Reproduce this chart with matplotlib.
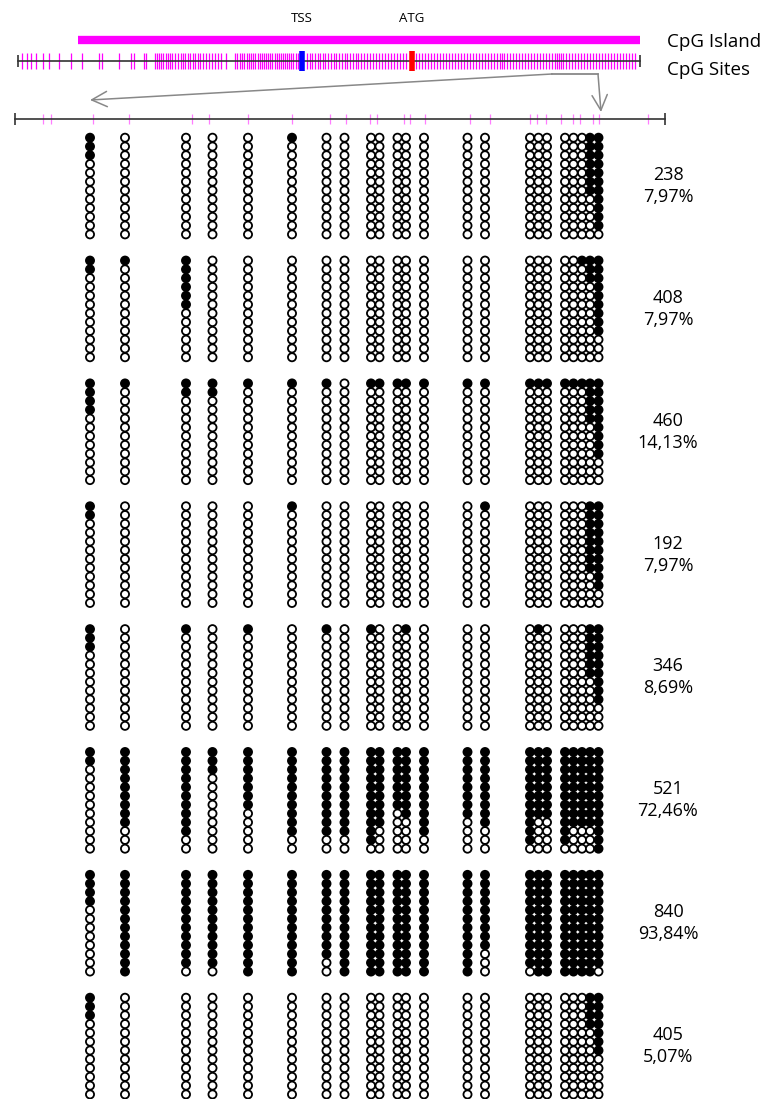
import matplotlib
matplotlib.use("Agg")
import matplotlib.pyplot as plt

# ---------------------------------------------------------------- data
# Gene overview (drawing units along the locus)
island_span = (78, 640)
locus_span = (18, 640)
tss_pos = 302
atg_pos = 412
locus_cpg_pos = [22, 27, 31, 36, 43, 49, 59, 71, 82, 99, 102, 119, 131, 134, 144, 146,
                 155, 157, 159, 161, 163, 166, 168, 170, 172, 175, 178, 181, 183, 185,
                 188, 190, 193, 195, 198, 200, 203, 206, 209, 212, 215, 218, 221, 226,
                 235, 237, 240, 242, 244, 247, 249, 251, 253, 255, 258, 260, 262, 264,
                 266, 268, 270, 272, 275, 277, 279, 281, 283, 285, 287, 289, 291, 293,
                 296, 298, 307, 310, 312, 315, 318, 320, 323, 325, 328, 331, 334, 336,
                 339, 342, 345, 347, 350, 353, 356, 358, 361, 364, 367, 370, 373, 376,
                 379, 382, 385, 388, 391, 394, 397, 400, 403, 406, 416, 419, 422, 425,
                 428, 431, 434, 437, 440, 443, 446, 449, 452, 455, 458, 461, 464, 467,
                 470, 473, 476, 479, 482, 485, 488, 491, 494, 497, 500, 502, 504, 507,
                 510, 513, 516, 519, 522, 525, 528, 531, 534, 537, 540, 543, 546, 549,
                 552, 555, 557, 559, 561, 563, 566, 569, 572, 575, 578, 581, 584, 587,
                 590, 593, 596, 599, 602, 605, 608, 611, 614, 617, 620, 623, 626, 629,
                 632, 635]

# Amplicon detail
amplicon_span = (15, 665)
amplicon_cpg_pos = [43, 51, 93, 129, 192, 209, 248, 292, 330, 346, 370, 377, 404,
                    410, 425, 470, 490, 530, 537, 546, 561, 573, 580, 593, 599, 648]

# Lollipop columns (one per CpG in the sequenced reads)
column_pos = [90, 125, 186, 212.5, 248, 292, 326.5, 344.5, 371, 379.5, 397.5, 406,
              424, 467.5, 485, 530, 538.5, 547, 565, 573.5, 582, 590, 598.5]
reads_per_sample = 12

sample_ids = ["238", "408", "460", "192", "346", "521", "840", "405"]
sample_pct = ["7,97%", "7,97%", "14,13%", "7,97%", "8,69%", "72,46%", "93,84%", "5,07%"]

# methylated reads per CpG column (counted from the top read)
meth_238 = [3, 0, 0, 0, 0, 1, 0, 0, 0, 0, 0, 0, 0, 0, 0, 0, 0, 0, 0, 0, 0, 7, 11]
meth_408 = [2, 1, 6, 0, 0, 0, 0, 0, 0, 0, 0, 0, 0, 0, 0, 0, 0, 0, 0, 0, 1, 3, 9]
meth_460 = [4, 1, 2, 2, 1, 1, 1, 0, 1, 1, 1, 1, 1, 1, 1, 1, 1, 1, 1, 1, 1, 5, 9]
meth_192 = [2, 0, 0, 0, 0, 1, 0, 0, 0, 0, 0, 0, 0, 0, 1, 0, 0, 0, 0, 0, 0, 8, 10]
meth_346 = [3, 0, 1, 0, 1, 0, 1, 0, 1, 0, 0, 1, 0, 0, 0, 0, 1, 0, 0, 0, 0, 6, 9]
meth_521 = [2, 9, 10, 3, 7, 10, 10, 10, 11, 9, 7, 8, 10, 8, 9, 11, 8, 8, 11, 9, 9, 9, 12]
meth_840 = [4, 12, 11, 11, 12, 12, 10, 12, 12, 12, 12, 12, 12, 12, 9, 11, 12, 12, 12, 12, 12, 12, 11]
meth_405 = [3, 0, 0, 0, 0, 0, 0, 0, 0, 0, 0, 0, 0, 0, 0, 0, 0, 0, 0, 0, 0, 4, 7]
samples_meth = [meth_238, meth_408, meth_460, meth_192, meth_346, meth_521, meth_840, meth_405]

# ---------------------------------------------------------------- layout
W, H = 768, 1099
fig = plt.figure(figsize=(W / 100, H / 100), dpi=100)
ax = fig.add_axes([0, 0, 1, 1])
ax.set_xlim(0, W)
ax.set_ylim(H, 0)
ax.axis("off")

FONT = ["Open Sans", "DejaVu Sans"]
MAG = "#ff00ff"
PINK = "#ff7dff"

# ---- gene overview
y_island, y_locus = 40, 61
ax.plot(island_span, [y_island, y_island], color=MAG, lw=6, solid_capstyle="butt")
ax.vlines(locus_cpg_pos, y_locus - 8, y_locus + 8, color=MAG, lw=0.9)
ax.plot(locus_span, [y_locus, y_locus], color="#333333", lw=1.2)
ax.vlines(locus_span, y_locus - 6, y_locus + 6, color="#333333", lw=1.2)
ax.vlines([tss_pos], y_locus - 10, y_locus + 10, color="#0000ff", lw=4)
ax.vlines([atg_pos], y_locus - 10, y_locus + 10, color="#ff0000", lw=4)
ax.text(tss_pos, 18, "TSS", ha="center", va="center", fontsize=9.5, family=FONT)
ax.text(atg_pos, 18, "ATG", ha="center", va="center", fontsize=9.5, family=FONT)
ax.text(667, 42, "CpG Island", ha="left", va="center", fontsize=13.5, family=FONT)
ax.text(667, 70, "CpG Sites", ha="left", va="center", fontsize=13.5, family=FONT)

# ---- zoom-in connectors
zoom_span = (552, 598)
y_z = 74
ax.plot(zoom_span, [y_z, y_z], color="#888888", lw=1.3)
ax.annotate("", xy=(90, 100), xytext=(zoom_span[0], y_z),
            arrowprops=dict(arrowstyle="->,head_length=1.1,head_width=0.55",
                            color="#888888", lw=1.1, shrinkA=0, shrinkB=0))
ax.annotate("", xy=(601, 112), xytext=(zoom_span[1], y_z),
            arrowprops=dict(arrowstyle="->,head_length=1.1,head_width=0.55",
                            color="#888888", lw=1.1, shrinkA=0, shrinkB=0))

# ---- amplicon ruler
y_amp = 119
ax.vlines(amplicon_cpg_pos, y_amp - 5, y_amp + 5, color=PINK, lw=0.9)
ax.plot(amplicon_span, [y_amp, y_amp], color="#333333", lw=1.2)
ax.vlines(amplicon_span, y_amp - 6, y_amp + 6, color="#333333", lw=1.2)

# ---- lollipops
first_top, group_step, row_step = 137.7, 122.86, 8.79
for g, counts in enumerate(samples_meth):
    top = first_top + g * group_step
    xs, ys, fills = [], [], []
    for x, n in zip(column_pos, counts):
        for r in range(reads_per_sample):
            xs.append(x)
            ys.append(top + r * row_step)
            fills.append("black" if r < n else "white")
    ax.scatter(xs, ys, s=34, facecolors=fills, edgecolors="black",
               linewidths=1.3, zorder=3)
    mid = top + (reads_per_sample - 1) * row_step / 2
    ax.text(668, mid - 11, sample_ids[g], ha="center", va="center",
            fontsize=13, family=FONT)
    ax.text(668, mid + 11, sample_pct[g], ha="center", va="center",
            fontsize=13, family=FONT)

fig.savefig("out.png", dpi=100)
